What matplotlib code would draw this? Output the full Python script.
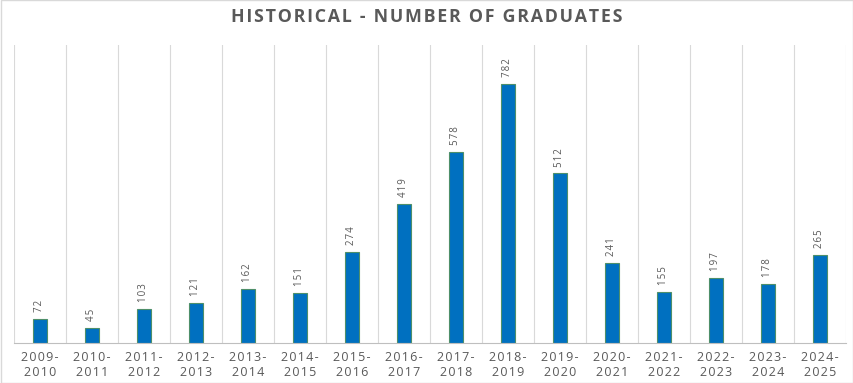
import numpy as np
import matplotlib.pyplot as plt
from matplotlib.patches import Rectangle

years = ['2009-\n2010', '2010-\n2011', '2011-\n2012', '2012-\n2013', '2013-\n2014',
         '2014-\n2015', '2015-\n2016', '2016-\n2017', '2017-\n2018', '2018-\n2019',
         '2019-\n2020', '2020-\n2021', '2021-\n2022', '2022-\n2023', '2023-\n2024',
         '2024-\n2025']
graduates = [72, 45, 103, 121, 162, 151, 274, 419, 578, 782, 512, 241, 155, 197, 178, 265]

plt.rcParams['font.family'] = ['Open Sans', 'DejaVu Sans']


def spaced(s, sp='\u200a'):
    # fake letter spacing with hair spaces
    return '\n'.join(sp.join(line) for line in s.split('\n'))


fig = plt.figure(figsize=(8.54, 3.83), dpi=100)
ax = fig.add_axes([14 / 854, 40 / 383, 832 / 854, 298 / 383])

x = np.arange(len(years))
ax.bar(x, graduates, width=0.28, color='#0070C0', edgecolor='#4E8F6A', linewidth=0.8, zorder=3)

for xi, v in zip(x, graduates):
    ax.annotate(spaced(str(v)), (xi, v), xytext=(0, 5), textcoords='offset points',
                rotation=90, ha='center', va='bottom', fontsize=7, color='#595959')

ax.set_xlim(-0.5, len(years) - 0.5)
ax.set_ylim(0, 900)
for b in np.arange(-0.5, len(years), 1.0):
    ax.axvline(b, color='#D9D9D9', linewidth=0.8, zorder=1)

ax.set_xticks(x)
ax.set_xticklabels([spaced(y) for y in years], fontsize=9, color='#595959', linespacing=1.15)
ax.tick_params(axis='x', length=0, pad=6)
ax.set_yticks([])
for s in ['top', 'left', 'right']:
    ax.spines[s].set_visible(False)
ax.spines['bottom'].set_color('#BFBFBF')
ax.spines['bottom'].set_zorder(4)

fig.text(0.5, 0.955, spaced('HISTORICAL - NUMBER OF GRADUATES'), ha='center', va='center',
         fontsize=12.8, fontweight='bold', color='#595959')
fig.patches.append(Rectangle((0.001, 0.001), 0.998, 0.998, transform=fig.transFigure,
                             fill=False, edgecolor='#D9D9D9', linewidth=1))

fig.savefig('out.png', dpi=100)
